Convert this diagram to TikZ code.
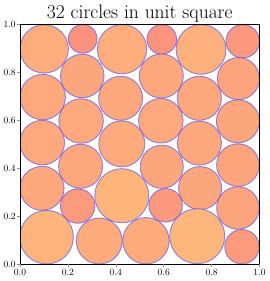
\documentclass[tikz,border=0pt]{standalone}
\usepackage{tikz}
\usetikzlibrary{positioning}
\definecolor{smallred}{RGB}{252,146,126}
\definecolor{bigorange}{RGB}{253,182,124}
\definecolor{rimblue}{RGB}{70,70,255}
\definecolor{tickgray}{RGB}{140,140,140}

\begin{document}
\begin{tikzpicture}[x=239.5pt,y=239.5pt,
  ticklabel/.style={font=\fontsize{9.5}{11}\selectfont,inner sep=1pt}]
\useasboundingbox (-0.08351,-0.07098) rectangle (1.03967,1.10230);
\node[font=\fontsize{19.5}{22}\selectfont,anchor=base] (title) at (0.5,1.027) {32 circles in unit square};
% circles: x / y / r
\begin{scope}
\clip (0,0) rectangle (1,1);
\foreach \x/\y/\r in {0.101/0.898/0.101, 0.262/0.940/0.060, 0.426/0.897/0.103, 0.592/0.938/0.062,
  0.756/0.896/0.104, 0.930/0.930/0.070, 0.260/0.785/0.091, 0.590/0.785/0.092,
  0.912/0.774/0.088, 0.095/0.697/0.095, 0.420/0.692/0.092, 0.749/0.692/0.092,
  0.255/0.597/0.093, 0.588/0.598/0.093, 0.910/0.596/0.090, 0.093/0.507/0.093,
  0.425/0.502/0.096, 0.749/0.505/0.092, 0.253/0.408/0.092, 0.592/0.406/0.090,
  0.910/0.413/0.089, 0.092/0.316/0.092, 0.425/0.285/0.113, 0.752/0.317/0.090,
  0.241/0.242/0.072, 0.608/0.245/0.070, 0.910/0.234/0.089, 0.111/0.112/0.112,
  0.331/0.096/0.096, 0.526/0.097/0.097, 0.740/0.116/0.115, 0.927/0.072/0.072}{
  \pgfmathsetmacro{\t}{min(100,max(0,(\r-0.06)/0.055*100))}
  \fill[bigorange!\t!smallred] (\x,\y) circle (\r);
  \draw[rimblue,draw opacity=0.6,line width=0.9pt] (\x,\y) circle (\r);
}
\end{scope}
% axes frame and ticks
\draw[black,line width=0.9pt] (0,0) rectangle (1,1);
\foreach \v [count=\i] in {0.0,0.2,0.4,0.6,0.8,1.0}{
  \draw[tickgray,line width=0.6pt] (\v,0) -- ++(0,-3.5pt);
  \draw[tickgray,line width=0.6pt] (0,\v) -- ++(-3.5pt,0);
  \node[ticklabel,anchor=north] (xt\i) at (\v,-0.015) {\v};
  \node[ticklabel,anchor=east] (yt\i) at (-0.013,\v) {\v};
}
\end{tikzpicture}
\end{document}
